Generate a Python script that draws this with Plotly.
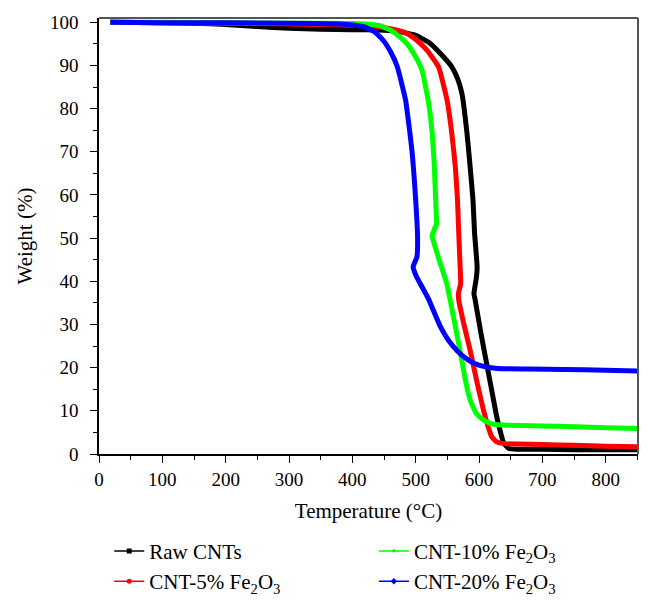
import plotly.graph_objects as go

# Temperature (°C) / weight (%)
raw_T = [18, 100, 150, 200, 250, 300, 350, 400, 440, 470, 500, 523, 542, 557, 566, 573, 581, 586, 590.5, 593, 597, 596, 592, 594, 603, 613, 621, 628, 634, 639, 647, 660, 700, 750, 800, 850]
raw_W = [100, 99.9, 99.8, 99.5, 99.0, 98.6, 98.4, 98.3, 98.2, 97.9, 97.0, 95.1, 92.3, 89.7, 87.0, 83.5, 74.3, 66.5, 58.8, 51.1, 43.4, 41.0, 37.2, 35.6, 28.0, 20.2, 14.0, 8.6, 5.0, 2.5, 1.3, 1.1, 1.1, 1.0, 1.0, 1.0]

cnt5_T = [18, 100, 200, 300, 400, 440, 460, 485, 502, 518, 536, 549.5, 557, 562.6, 566, 568, 570, 571, 567.5, 568, 577, 586, 597, 607, 614, 620, 628, 639, 660, 700, 750, 800, 850]
cnt5_W = [100, 99.9, 99.8, 99.6, 99.4, 99.0, 98.5, 97.5, 95.8, 93.5, 89.7, 82.0, 74.3, 66.5, 58.8, 51.1, 44.0, 39.5, 37.2, 35.6, 29.5, 24.0, 16.5, 10.2, 6.5, 4.0, 2.8, 2.4, 2.3, 2.2, 2.0, 1.8, 1.7]

cnt10_T = [18, 100, 200, 300, 400, 430, 444, 465, 486, 498, 510, 520.5, 526, 529.5, 532.6, 533, 528, 526, 537, 549, 560, 570, 578, 586, 596, 607, 620, 639, 700, 750, 800, 850]
cnt10_W = [100, 100, 99.9, 99.8, 99.7, 99.5, 99.2, 97.8, 95.1, 92.5, 88.9, 81.2, 74.3, 66.5, 54.9, 53.4, 51.5, 50.5, 45.0, 39.5, 31.5, 24.0, 17.5, 12.5, 9.3, 7.9, 7.0, 6.7, 6.5, 6.3, 6.1, 5.9]

cnt20_T = [18, 100, 200, 300, 380, 400, 418, 435, 449, 461, 471, 484, 494, 500, 503, 502, 496, 500, 507, 520, 539, 552, 565, 578, 592, 610, 629, 680, 734, 800, 850]
cnt20_W = [100, 99.9, 99.9, 99.8, 99.6, 99.4, 99.0, 97.8, 95.8, 93.0, 89.7, 82.0, 70.4, 58.8, 50.0, 45.7, 43.4, 41.5, 39.5, 36.0, 29.5, 26.3, 24.0, 22.3, 21.0, 20.2, 19.8, 19.7, 19.6, 19.4, 19.2]

names = ["Raw CNTs", "CNT-5% Fe<sub>2</sub>O<sub>3</sub>", "CNT-10% Fe<sub>2</sub>O<sub>3</sub>", "CNT-20% Fe<sub>2</sub>O<sub>3</sub>"]
colors = ["#000000", "#ff0000", "#00ff00", "#0000ff"]
symbols = ["square", "circle", "triangle-up", "diamond"]
legends = ["legend", "legend", "legend2", "legend2"]
series = [(raw_T, raw_W), (cnt5_T, cnt5_W), (cnt10_T, cnt10_W), (cnt20_T, cnt20_W)]

FONT = "Liberation Serif"
fig = go.Figure()
for (t, w), c in zip(series, colors):
    fig.add_trace(go.Scatter(x=t, y=w, mode="lines", line=dict(color=c, width=5, shape="spline", smoothing=0.4),
                             showlegend=False, hoverinfo="skip"))
for n, c, s, lg in zip(names, colors, symbols, legends):
    fig.add_trace(go.Scatter(x=[None], y=[None], mode="lines+markers", name=n, legend=lg,
                             line=dict(color=c, width=1.5), marker=dict(color=c, size=5, symbol=s)))

axis_common = dict(showgrid=False, zeroline=False, showline=True, linecolor="#000", linewidth=1.5,
                   ticks="outside", ticklen=7, tickwidth=1.2, tickcolor="#000", automargin=False,
                   tickfont=dict(family=FONT, size=19, color="#000"),
                   title_font=dict(family=FONT, size=21, color="#000"))
fig.update_xaxes(range=[0, 851], tickvals=[0, 100, 200, 300, 400, 500, 600, 700, 800],
                 minor=dict(ticks="outside", ticklen=4, tickwidth=1.2, tickcolor="#000", dtick=50, tick0=0),
                 title_text="Temperature (°C)", title_standoff=15, **axis_common)
fig.update_yaxes(range=[0, 101], tickvals=[0, 10, 20, 30, 40, 50, 60, 70, 80, 90, 100],
                 minor=dict(ticks="outside", ticklen=4, tickwidth=1.2, tickcolor="#000", dtick=5, tick0=0),
                 ticklabelstandoff=8,
                 title_text="Weight (%)", title_standoff=12, **axis_common)

fig.add_shape(type="line", xref="paper", yref="paper", x0=0, x1=1, y0=1, y1=1, line=dict(color="#555", width=2))
fig.add_shape(type="line", xref="paper", yref="paper", x0=1, x1=1, y0=0, y1=1, line=dict(color="#555", width=2))

leg_common = dict(font=dict(family=FONT, size=21, color="#000"), bgcolor="rgba(0,0,0,0)",
                  orientation="v", yanchor="top", xanchor="left", tracegroupgap=0, itemwidth=30)
fig.update_layout(
    width=655, height=604,
    margin=dict(l=99, r=17, t=18, b=150, autoexpand=False),
    plot_bgcolor="white", paper_bgcolor="white",
    font=dict(family=FONT, size=19, color="#000"),
    legend=dict(x=0.019, y=-0.176, **leg_common),
    legend2=dict(x=0.51, y=-0.176, **leg_common),
)
fig.write_html("out.html", config={"displayModeBar": False},
               post_script="document.body.style.margin='0';document.body.style.overflow='hidden';")
